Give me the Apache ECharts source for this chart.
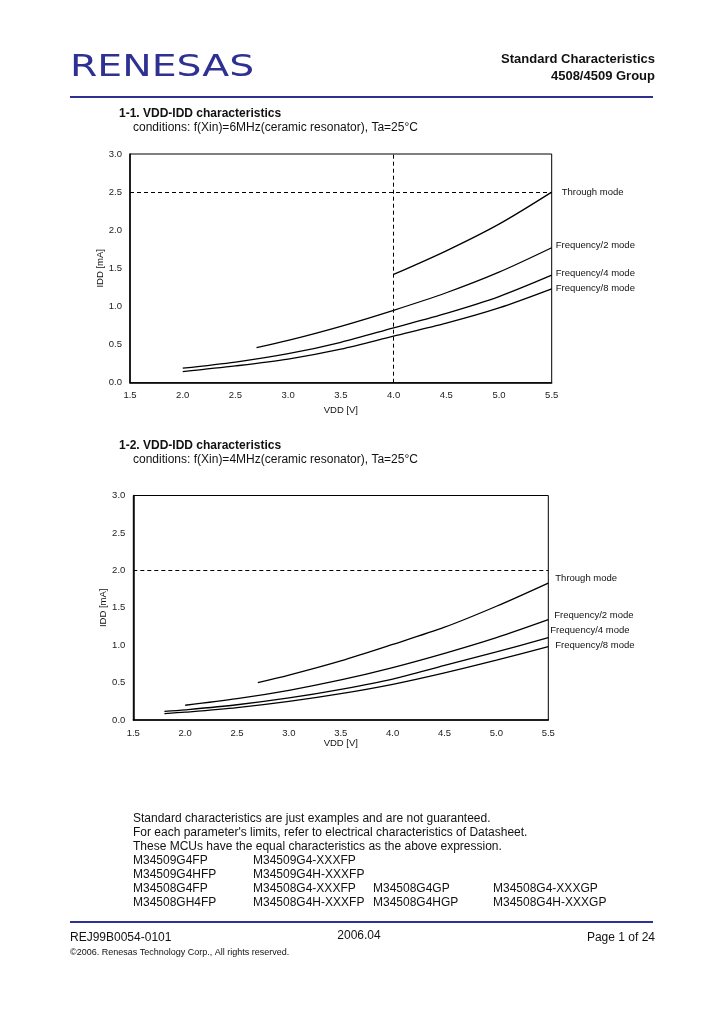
<!DOCTYPE html>
<html>
<head>
<meta charset="utf-8">
<script src="https://cdn.jsdelivr.net/npm/echarts@6/dist/echarts.min.js"></script>
<style>
html,body{margin:0;padding:0;background:#fff;}
#page{width:720px;height:1012px;}
</style>
</head>
<body>
<div id="page"></div>
<script>
// ---- Data: chart 1-1 (f(Xin)=6MHz) ----
const vdd1 = [2.0, 2.5, 2.7, 3.0, 3.5, 4.0, 4.5, 5.0, 5.5];
const through1 = [null, null, null, null, null, 1.42, 1.73, 2.08, 2.50];
const freq2_1  = [null, null, 0.46, 0.555, 0.74, 0.95, 1.18, 1.45, 1.77];
const freq4_1  = [0.19, 0.27, null, 0.38, 0.53, 0.72, 0.91, 1.13, 1.41];
const freq8_1  = [0.145, 0.22, null, 0.31, 0.44, 0.61, 0.78, 0.98, 1.23];
// ---- Data: chart 1-2 (f(Xin)=4MHz) ----
const vdd2 = [1.8, 2.0, 2.5, 2.7, 3.0, 3.5, 4.0, 4.5, 5.0, 5.5];
const through2 = [null, null, null, 0.50, 0.60, 0.79, 1.01, 1.24, 1.52, 1.83];
const freq2_2  = [null, 0.197, 0.285, null, 0.397, 0.535, 0.70, 0.89, 1.10, 1.34];
const freq4_2  = [0.115, 0.136, 0.204, null, 0.295, 0.41, 0.547, 0.73, 0.91, 1.10];
const freq8_2  = [0.085, 0.104, 0.165, null, 0.248, 0.352, 0.477, 0.63, 0.80, 0.98];
const seriesNames = ['Through mode', 'Frequency/2 mode', 'Frequency/4 mode', 'Frequency/8 mode'];
const limit1 = 2.5, vLimit1 = 4.0, limit2 = 2.0;
const xTicks = {min: 1.5, max: 5.5, interval: 0.5};
const yTicks = {min: 0, max: 3.0, interval: 0.5};

const BLUE = '#2e3192';
const FONT = 'Liberation Sans, Arial, sans-serif';

function pairs(xs, ys) {
  const out = [];
  xs.forEach((x, i) => { if (ys[i] !== null) out.push([x, ys[i]]); });
  return out;
}

function mkSeries(idx, name, xs, ys, off, extraMark) {
  const s = {
    type: 'line', name: name, xAxisIndex: idx, yAxisIndex: idx,
    data: pairs(xs, ys), smooth: 0.3, symbol: 'none',
    lineStyle: {color: '#000', width: 1.3},
    endLabel: {show: true, formatter: name, color: '#111', fontSize: 9.5,
               fontFamily: FONT, distance: 0, offset: off},
    animation: false, silent: true
  };
  if (extraMark) s.markLine = extraMark;
  return s;
}

function dashMark(lines) {
  return {
    symbol: ['none', 'none'], silent: true, animation: false,
    label: {show: false},
    lineStyle: {color: '#000', type: [4, 3], width: 1},
    data: lines
  };
}

function xAxis(idx, gap) {
  return {
    type: 'value', gridIndex: idx, min: xTicks.min, max: xTicks.max, interval: xTicks.interval,
    name: 'VDD [V]', nameLocation: 'middle', nameGap: gap, nameMoveOverlap: false,
    nameTextStyle: {color: '#111', fontSize: 9.5, fontFamily: FONT},
    axisLine: {show: true, lineStyle: {color: '#000', width: 1.5}},
    axisTick: {show: false}, splitLine: {show: false},
    axisLabel: {color: '#222', fontSize: 9.5, fontFamily: FONT, margin: 8,
                formatter: v => v.toFixed(1)}
  };
}
function yAxis(idx) {
  return {
    type: 'value', gridIndex: idx, min: yTicks.min, max: yTicks.max, interval: yTicks.interval,
    name: 'IDD [mA]', nameLocation: 'middle', nameGap: 25, nameRotate: 90, nameMoveOverlap: false,
    nameTextStyle: {color: '#111', fontSize: 9.5, fontFamily: FONT},
    axisLine: {show: true, lineStyle: {color: '#000', width: 1.5}},
    axisTick: {show: false}, splitLine: {show: false},
    axisLabel: {color: '#222', fontSize: 9.5, fontFamily: FONT, margin: 8,
                formatter: v => v.toFixed(1)}
  };
}

function txt(x, y, text, font, opts) {
  opts = opts || {};
  return {
    type: 'text', x: x, y: y, silent: true,
    scaleX: opts.scaleX || 1,
    style: {text: text, font: font, fill: opts.fill || '#111',
            textAlign: opts.align || 'left', textVerticalAlign: 'middle'}
  };
}

const F12 = '12px ' + FONT;
const B12 = 'bold 12px ' + FONT;
const graphics = [
  txt(70, 68, 'RENESAS', '31px DejaVu Sans', {fill: BLUE, scaleX: 1.27}),
  txt(655, 59, 'Standard Characteristics', 'bold 13px ' + FONT, {align: 'right'}),
  txt(655, 76, '4508/4509 Group', 'bold 13px ' + FONT, {align: 'right'}),
  {type: 'rect', shape: {x: 70, y: 96, width: 583, height: 2}, style: {fill: BLUE}, silent: true},
  txt(119, 114, '1-1. VDD-IDD characteristics', B12),
  txt(133, 128, 'conditions: f(Xin)=6MHz(ceramic resonator), Ta=25°C', F12),
  txt(119, 446, '1-2. VDD-IDD characteristics', B12),
  txt(133, 460, 'conditions: f(Xin)=4MHz(ceramic resonator), Ta=25°C', F12),
  txt(133, 819, 'Standard characteristics are just examples and are not guaranteed.', F12),
  txt(133, 833, "For each parameter's limits, refer to electrical characteristics of Datasheet.", F12),
  txt(133, 847, 'These MCUs have the equal characteristics as the above expression.', F12),
  txt(133, 861, 'M34509G4FP', F12), txt(253, 861, 'M34509G4-XXXFP', F12),
  txt(133, 875, 'M34509G4HFP', F12), txt(253, 875, 'M34509G4H-XXXFP', F12),
  txt(133, 889, 'M34508G4FP', F12), txt(253, 889, 'M34508G4-XXXFP', F12),
  txt(373, 889, 'M34508G4GP', F12), txt(493, 889, 'M34508G4-XXXGP', F12),
  txt(133, 903, 'M34508GH4FP', F12), txt(253, 903, 'M34508G4H-XXXFP', F12),
  txt(373, 903, 'M34508G4HGP', F12), txt(493, 903, 'M34508G4H-XXXGP', F12),
  {type: 'rect', shape: {x: 70, y: 921, width: 583, height: 2}, style: {fill: BLUE}, silent: true},
  txt(70, 938, 'REJ99B0054-0101', F12),
  txt(359, 936, '2006.04', F12, {align: 'center'}),
  txt(655, 938, 'Page 1 of 24', F12, {align: 'right'}),
  txt(70, 953, '©2006. Renesas Technology Corp., All rights reserved.', '9px ' + FONT)
];

const chart = echarts.init(document.getElementById('page'), null, {renderer: 'canvas'});
chart.setOption({
  backgroundColor: '#fff',
  animation: false,
  grid: [
    {left: 130, top: 154, right: 168.3, bottom: 629.3, show: true, borderColor: '#000', borderWidth: 1},
    {left: 133.3, top: 495.5, right: 171.7, bottom: 292, show: true, borderColor: '#000', borderWidth: 1}
  ],
  xAxis: [xAxis(0, 23), xAxis(1, 18)],
  yAxis: [yAxis(0), yAxis(1)],
  series: [
    mkSeries(0, seriesNames[0], vdd1, through1, [10, 0],
      dashMark([[{coord: [xTicks.min, limit1]}, {coord: [xTicks.max, limit1]}],
                [{coord: [vLimit1, yTicks.min]}, {coord: [vLimit1, yTicks.max]}]])),
    mkSeries(0, seriesNames[1], vdd1, freq2_1, [4, -2]),
    mkSeries(0, seriesNames[2], vdd1, freq4_1, [4, -2]),
    mkSeries(0, seriesNames[3], vdd1, freq8_1, [4, -1]),
    mkSeries(1, seriesNames[0], vdd2, through2, [7, -5],
      dashMark([[{coord: [xTicks.min, limit2]}, {coord: [xTicks.max, limit2]}]])),
    mkSeries(1, seriesNames[1], vdd2, freq2_2, [6, -4]),
    mkSeries(1, seriesNames[2], vdd2, freq4_2, [2, -7]),
    mkSeries(1, seriesNames[3], vdd2, freq8_2, [7, -1])
  ],
  graphic: graphics
});
</script>
</body>
</html>
